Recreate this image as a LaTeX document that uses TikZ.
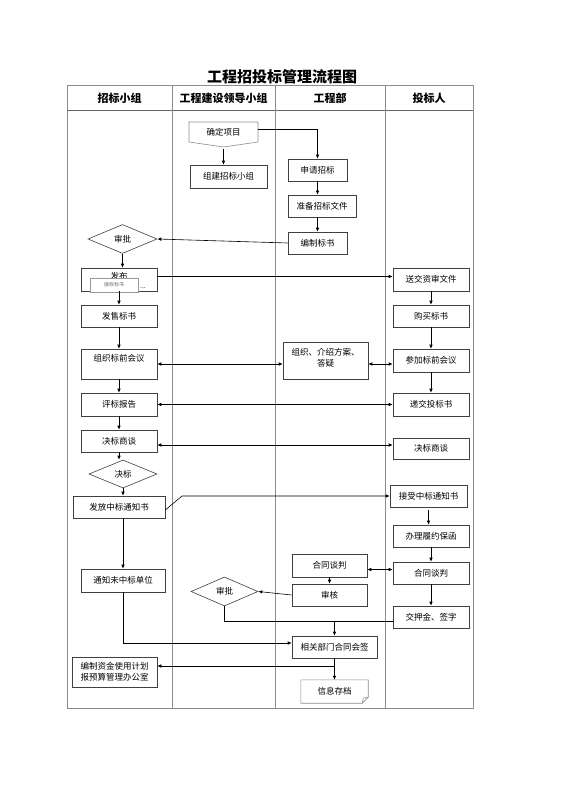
\documentclass[tikz,border=0pt]{standalone}
\usepackage{fontspec}
\setmainfont{Noto Sans CJK SC}
\usetikzlibrary{shapes.geometric,arrows.meta,calc}
\begin{document}
\begin{tikzpicture}[x=1pt,y=-1pt,
  box/.style={draw=black!75,line width=0.6pt,rectangle,inner sep=0pt,font=\fontsize{8.5}{11}\selectfont,align=center},
  dia/.style={draw=black!75,line width=0.6pt,diamond,inner sep=0pt,font=\fontsize{8.5}{11}\selectfont},
  txt/.style={inner sep=0pt,font=\fontsize{8.5}{11}\selectfont,align=center},
  arr/.style={line width=0.6pt,-{Latex[length=4pt,width=3.5pt]}},
  darr/.style={line width=0.6pt,{Latex[length=4pt,width=3.5pt]}-{Latex[length=4pt,width=3.5pt]}},
  ln/.style={line width=0.6pt},
  lane/.style={draw=black!45,line width=0.9pt},
  hdr/.style={inner sep=0pt,font=\fontsize{11}{13}\selectfont\bfseries}]
\useasboundingbox (0,0) rectangle (560,792);
\fill[white] (0,0) rectangle (560,792);
% title
\node[inner sep=0pt,font=\fontsize{15}{17}\selectfont\bfseries] (title) at (282,77) {工程招投标管理流程图};
% table
\draw[lane] (67,85) rectangle (473,708);
\draw[draw=black!60,line width=0.9pt] (67,110) -- (473,110);
\draw[lane] (172,85) -- (172,708);
\draw[lane] (275,85) -- (275,708);
\draw[lane] (385,85) -- (385,708);
\node[hdr] (h1) at (119.5,98) {招标小组};
\node[hdr] (h2) at (223.5,98) {工程建设领导小组};
\node[hdr] (h3) at (330,98) {工程部};
\node[hdr] (h4) at (429,98) {投标人};
% nodes
\node[txt,minimum width=69pt,minimum height=20pt] (qd) at (223.5,132) {确定项目};
\draw[draw=black!45,line width=0.6pt] (189,122) -- (258,122) -- (258,142) -- (223.5,147) -- (189,142) -- cycle;
\node[box,minimum width=77pt,minimum height=23pt] (zj) at (228.5,176.5) {组建招标小组};
\node[box,minimum width=59pt,minimum height=22pt] (sq) at (317.5,170) {申请招标};
\node[box,minimum width=68pt,minimum height=22pt] (zb) at (322,206) {准备招标文件};
\node[box,minimum width=59pt,minimum height=22pt] (bz) at (317.5,243) {编制标书};
\node[dia,minimum width=69pt,minimum height=29pt] (sp1) at (122.5,239) {审批};
\node[box,minimum width=76pt,minimum height=23pt] (fb) at (119,279.5) {};
\node[txt] (fbt) at (119,276) {发布};
\node[txt,font=\fontsize{7}{8}\selectfont] (fbd) at (143,288) {...};
\node[draw=black!40,fill=white,inner sep=0pt,minimum width=48pt,minimum height=14pt,font=\fontsize{5}{6}\selectfont,text=black!60] (ov) at (114,285) {接收标书};
\node[box,minimum width=76pt,minimum height=23pt] (ss) at (431,279.5) {送交资审文件};
\node[box,minimum width=76pt,minimum height=22pt] (fs) at (119,316) {发售标书};
\node[box,minimum width=76pt,minimum height=22pt] (gm) at (431,316) {购买标书};
\node[box,minimum width=85pt,minimum height=37pt] (zz) at (325.5,360.5) {};
\node[txt] (zzt) at (325.5,358) {组织、介绍方案、\\答疑};
\node[box,minimum width=76pt,minimum height=30pt] (zq) at (119,364) {};
\node[txt] (zqt) at (119,358) {组织标前会议};
\node[box,minimum width=76pt,minimum height=23pt] (cj) at (431,360.5) {参加标前会议};
\node[box,minimum width=76pt,minimum height=23pt] (pb) at (119,404.5) {评标报告};
\node[box,minimum width=76pt,minimum height=23pt] (dj) at (431,404.5) {递交投标书};
\node[box,minimum width=76pt,minimum height=22pt] (jl) at (119,441) {决标商谈};
\node[box,minimum width=76pt,minimum height=21pt] (jr) at (431,448.5) {决标商谈};
\node[dia,minimum width=68pt,minimum height=28pt] (jb) at (123,474) {决标};
\node[box,minimum width=92pt,minimum height=22pt] (ff) at (119,507) {发放中标通知书};
\node[box,minimum width=77pt,minimum height=22pt] (js) at (428.5,496) {接受中标通知书};
\node[box,minimum width=76pt,minimum height=22pt] (bl) at (431,536) {办理履约保函};
\node[box,minimum width=76pt,minimum height=22pt] (hr) at (431,573) {合同谈判};
\node[box,minimum width=75pt,minimum height=23pt] (hm) at (329.5,565.5) {合同谈判};
\node[box,minimum width=84pt,minimum height=23pt] (tz) at (123,580.5) {通知未中标单位};
\node[box,minimum width=75pt,minimum height=22pt] (sh) at (329.5,595) {审核};
\node[dia,minimum width=67pt,minimum height=29pt] (sp2) at (224.5,591.5) {审批};
\node[box,minimum width=76pt,minimum height=22pt] (jy) at (431,617) {交押金、签字};
\node[box,minimum width=85pt,minimum height=22pt] (xg) at (334.5,647) {相关部门合同会签};
\node[box,minimum width=85pt,minimum height=30pt,align=left] (bzj) at (114.5,672) {编制资金使用计划\\报预算管理办公室};
\node[txt,minimum width=67pt,minimum height=23pt] (xx) at (334.5,691.5) {信息存档};
\draw[draw=black!45,line width=0.6pt] (xx.north west) -- (xx.north east) -- ([yshift=6pt]xx.south east) -- ([xshift=-6pt]xx.south east) -- (xx.south west) -- cycle;
\draw[draw=black!45,line width=0.5pt] ([xshift=-6pt]xx.south east) -- ([xshift=-5pt,yshift=5pt]xx.south east) -- ([yshift=6pt]xx.south east);
% connectors
\coordinate (qdb) at (223.5,149);
\draw[arr] (qdb) -- (zj.north -| qdb);
\coordinate (qdr) at (258,129);
\draw[arr] (qdr) -| (sq.north);
\draw[arr] (sq) -- (zb.north -| sq);
\draw[arr] (zb.south -| sq) -- (bz.north);
\draw[arr] (bz.west) -- (sp1.east);
\draw[arr] (sp1.south) -- (fb.north -| sp1.south);
\draw[arr] ([yshift=3pt]fb.east) -- ([yshift=3pt]ss.west);
\draw[arr] (fb.south) -- (fs.north);
\draw[arr] (fs.south) -- (zq.north);
\draw[arr] (zq.south) -- (pb.north);
\draw[arr] (pb.south) -- (jl.north);
\draw[arr] (jl.south) -- (jb.north -| jl.south);
\draw[arr] (jb.south) -- (ff.north -| jb.south);
\draw[arr] (ss.south) -- (gm.north);
\draw[arr] (gm.south) -- (cj.north);
\draw[arr] (cj.south) -- (dj.north);
\draw[darr] (zq.east) -- (zq.east -| zz.west);
\draw[darr] (zq.east -| zz.east) -- (zq.east -| cj.west);
\draw[darr] (pb.east) -- (dj.west);
\draw[darr] ([yshift=-4pt]jl.east) -- ([yshift=-4pt]jl.east -| jr.west);
\coordinate (kk) at (182,496);
\draw[arr] ([yshift=-3pt]ff.east) -- (kk) -- (js.west);
\draw[arr] ([yshift=-3pt]js.south) -- (js.south |- bl.north);
\draw[arr] (bl.south) -- (hr.north);
\draw[arr] (hr.south) -- (jy.north);
\draw[darr] ([yshift=-4pt]hm.east) -- ([yshift=-4pt]hm.east -| hr.west);
\draw[arr] (hm.south) -- (sh.north);
\draw[arr] (sh.west) -- (sp2.east);
\draw[arr] (ff.south -| tz.north) -- (tz.north);
\draw[ln] (sp2.south) |- ([yshift=-4pt]jy.west);
\coordinate (mm) at (334.5,621);
\draw[arr] (mm) -- (xg.north);
\draw[arr] (tz.south) |- ([yshift=4pt]xg.west);
\draw[arr] (xg.south) -- (xx.north);
\coordinate (br) at (334.5,666);
\draw[arr] (br) -- (br -| bzj.east);
\end{tikzpicture}
\end{document}
